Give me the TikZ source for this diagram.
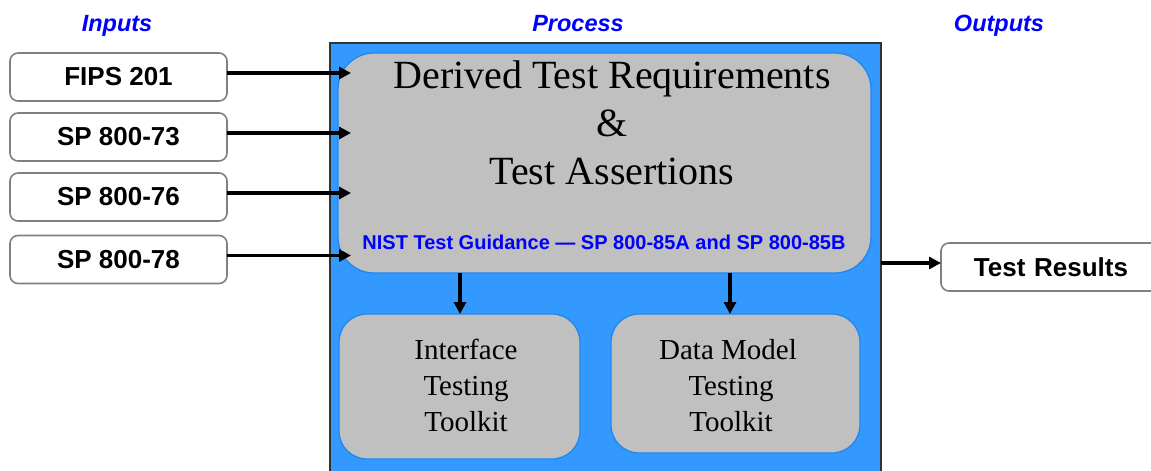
\documentclass[tikz,border=0pt]{standalone}
\usepackage{fontspec}
\setmainfont{Liberation Serif}
\newfontfamily\arialfont{Liberation Sans}
\usetikzlibrary{arrows.meta}
\definecolor{procblue}{HTML}{3399FF}
\definecolor{boxgray}{HTML}{C0C0C0}
\definecolor{edgeblue}{HTML}{1E88F0}
\definecolor{headblue}{HTML}{0000FF}
\definecolor{framegray}{HTML}{808080}
\begin{document}
\begin{tikzpicture}[x=1pt,y=-1pt,
  heading/.style={font=\arialfont\bfseries\itshape\fontsize{23.5}{26}\selectfont, text=headblue, anchor=base, inner sep=0pt},
  inbox/.style={draw=framegray, line width=1.6pt, fill=white, rounded corners=8pt, anchor=north west,
    minimum width=217pt, minimum height=48pt, inner sep=0pt, outer sep=0pt,
    font=\arialfont\bfseries\fontsize{26}{30}\selectfont},
  procbox/.style={draw=black!80, line width=1.5pt, fill=procblue, anchor=north west, inner sep=0pt, outer sep=0pt},
  graybox/.style={draw=edgeblue, line width=1.3pt, fill=boxgray, anchor=north west, inner sep=0pt, outer sep=0pt},
  bigtext/.style={font=\fontsize{40}{48}\selectfont, anchor=base, inner sep=0pt},
  tooltext/.style={font=\fontsize{29}{36}\selectfont, anchor=base, inner sep=0pt},
  arr/.style={line width=3.2pt, -{Triangle[length=12pt,width=12pt]}}
]
\useasboundingbox (0,0) rectangle (1151,471);

% headings
\node[heading] (hin) at (117,31) {Inputs};
\node[heading] (hproc) at (578,31) {Process};
\node[heading] (hout) at (999,31) {Outputs};

% process frame
\node[procbox, minimum width=551pt, minimum height=450pt] (proc) at (330,43) {};

% big gray box
\node[graybox, rounded corners=36pt, minimum width=533pt, minimum height=220pt] (derive) at (338,53) {};
\node[bigtext] (t1) at (612,88) {Derived Test Requirements};
\node[bigtext] (t2) at (612,136) {\&};
\node[bigtext] (t3) at (612,184) {Test Assertions};
\node[font=\arialfont\bfseries\fontsize{20}{24}\selectfont, text=headblue, anchor=base, inner sep=0pt] (nist) at (604,249) {NIST Test Guidance — SP 800-85A and SP 800-85B};

% toolkit boxes
\node[graybox, rounded corners=28pt, minimum width=241pt, minimum height=145pt] (iface) at (339,314) {};
\node[graybox, rounded corners=28pt, minimum width=249pt, minimum height=139pt] (dmodel) at (611,314) {};
\node[tooltext] (i1) at (466,359) {Interface};
\node[tooltext] (i2) at (466,395) {Testing};
\node[tooltext] (i3) at (466,431) {Toolkit};
\node[tooltext] (d1) at (728,359) {Data Model};
\node[tooltext] (d2) at (731,395) {Testing};
\node[tooltext] (d3) at (731,431) {Toolkit};

% inputs
\node[inbox] (fips) at (10,53) {FIPS 201};
\node[inbox] (sp73) at (10,113) {SP 800-73};
\node[inbox] (sp76) at (10,173) {SP 800-76};
\node[inbox] (sp78) at (10,235.5) {SP 800-78};

% output
\node[inbox, minimum width=220pt, text width=200pt, align=center] (res) at (941,243) {Test Results};

% connectors
\coordinate (inx) at (351,0);
\foreach \n in {fips,sp73,sp76,sp78}{
  \draw[arr] ([yshift=4pt]\n.east) -- ([yshift=4pt]\n.east -| inx);
}
\draw[arr] ([yshift=4pt]res.west -| proc.east) -- ([yshift=4pt]res.west);
\draw[arr] (derive.south -| 460,0) -- (iface.north -| 460,0);
\draw[arr] (derive.south -| 730,0) -- (dmodel.north -| 730,0);
\end{tikzpicture}
\end{document}
